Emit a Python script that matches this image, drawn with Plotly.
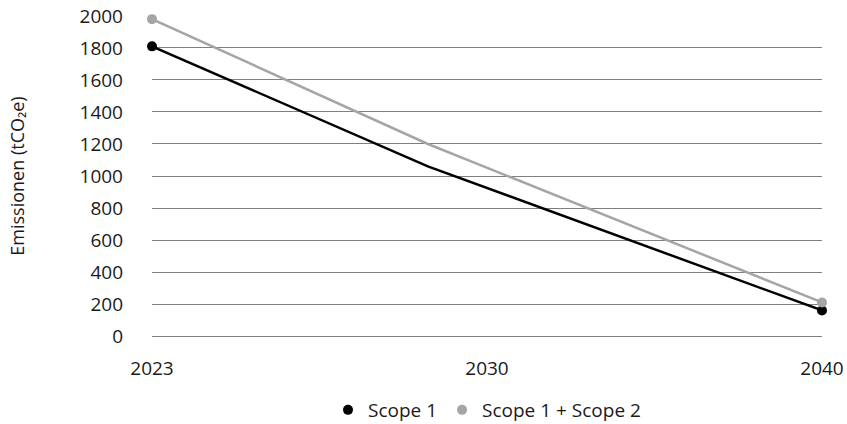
import numpy as np
import plotly.graph_objects as go

years = [2023, 2030, 2040]
tick_labels = ["2023", "2030", "2040"]
scope1 = [1810, 1060, 160]
scope12 = [1980, 1200, 210]

series = [
    ("Scope 1", scope1, "#000000"),
    ("Scope 1 + Scope 2", scope12, "#a5a5a5"),
]

fig = go.Figure()
font = "Open Sans"

for name, vals, color in series:
    fig.add_trace(go.Scatter(
        x=years, y=vals, mode="lines", name=name, showlegend=False,
        line=dict(color=color, width=2.5), cliponaxis=False, hoverinfo="skip",
    ))
for name, vals, color in series:
    fig.add_trace(go.Scatter(
        x=[years[0], years[-1]], y=[vals[0], vals[-1]], mode="markers", name=name,
        marker=dict(color=color, size=10), cliponaxis=False,
    ))

tickvals = list(np.linspace(years[0], years[-1], len(tick_labels)))

fig.update_layout(
    width=847, height=424,
    margin=dict(l=152, r=25, t=15, b=87),
    paper_bgcolor="white", plot_bgcolor="white",
    font=dict(family=font, size=18, color="#1a1a1a"),
    xaxis=dict(
        range=[years[0], years[-1]], tickvals=tickvals, ticktext=tick_labels,
        showgrid=False, zeroline=False, showline=False, ticks="",
        tickfont=dict(size=19), ticklabelstandoff=18, automargin=False,
    ),
    yaxis=dict(
        range=[-6, 2006], dtick=200, showgrid=True, gridcolor="#7f7f7f", gridwidth=1,
        zeroline=True, zerolinecolor="#7f7f7f", zerolinewidth=1,
        showline=False, ticks="", automargin=False,
        tickfont=dict(size=19), ticklabelstandoff=28,
        title=dict(text="Emissionen (tCO₂e)", font=dict(size=18), standoff=50),
    ),
    legend=dict(orientation="h", x=0.5, xanchor="center",
                yref="container", y=14 / 424, yanchor="middle",
                font=dict(size=19), itemwidth=30, traceorder="normal"),
    showlegend=True,
)

fig.write_html("out.html")
